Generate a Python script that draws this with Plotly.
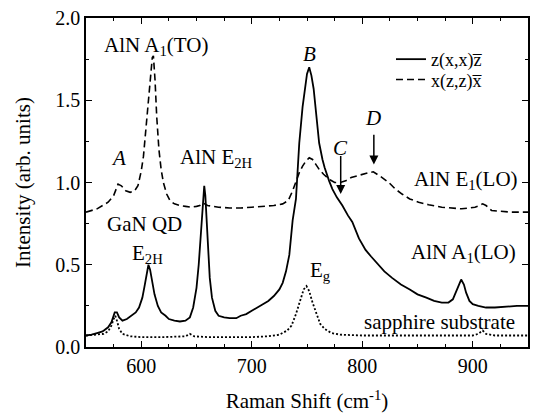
import plotly.graph_objects as go

# z(x,x)z̄ spectrum (solid)
solid_x = [550, 555, 560, 565, 570, 573, 576, 578, 580, 583, 587, 591, 595, 598, 601, 603, 605, 606.5, 608, 610,
           612, 615, 618, 622, 625, 630, 635, 640, 644, 647, 650, 652, 654, 656, 657, 658, 660, 662, 664, 667,
           670, 675, 680, 686, 690, 695, 700, 705, 710, 715, 720, 725, 728, 731, 734, 737, 740, 743, 746, 748,
           750, 752, 754, 756, 758, 761, 764, 766, 770, 773, 777, 782, 787, 791, 797, 803, 808, 813, 820, 827,
           835, 843, 850, 858, 865, 872, 878, 882, 885, 887, 889.5, 892, 894, 897, 900, 905, 912, 920, 930, 940, 950]
solid_y = [0.07, 0.075, 0.085, 0.095, 0.12, 0.15, 0.21, 0.21, 0.18, 0.16, 0.17, 0.19, 0.21, 0.24, 0.30, 0.37, 0.46, 0.50, 0.47, 0.40,
           0.32, 0.25, 0.21, 0.19, 0.17, 0.16, 0.155, 0.16, 0.18, 0.24, 0.36, 0.50, 0.70, 0.92, 0.98, 0.92, 0.66, 0.42, 0.30, 0.22,
           0.19, 0.18, 0.175, 0.175, 0.19, 0.20, 0.22, 0.24, 0.26, 0.28, 0.31, 0.35, 0.39, 0.46, 0.56, 0.77, 0.90, 1.24, 1.46, 1.57,
           1.66, 1.70, 1.65, 1.57, 1.44, 1.24, 1.14, 1.09, 1.01, 0.96, 0.91, 0.86, 0.80, 0.76, 0.66, 0.59, 0.55, 0.51, 0.46, 0.42,
           0.38, 0.35, 0.32, 0.30, 0.28, 0.27, 0.27, 0.29, 0.34, 0.38, 0.41, 0.38, 0.33, 0.28, 0.26, 0.25, 0.24, 0.24, 0.245, 0.25, 0.25]

# x(z,z)x̄ spectrum (dashed)
dash_x = [550, 555, 560, 565, 570, 575, 579, 582, 586, 590, 594, 597, 600, 602, 604, 606, 608, 610, 611, 612.5,
          614, 616, 618, 620, 623, 626, 630, 635, 640, 645, 650, 653, 656, 660, 665, 670, 680, 690, 700, 710,
          720, 728, 733, 737, 740, 743, 746, 749, 752, 755, 758, 761, 765, 770, 775, 780, 785, 790, 795, 800,
          806, 810, 814, 818, 824, 830, 836, 843, 851, 860, 872, 882, 890, 897, 902, 906, 909, 912, 917, 925, 935, 950]
dash_y = [0.82, 0.83, 0.84, 0.86, 0.88, 0.92, 0.99, 0.98, 0.95, 0.94, 0.95, 0.98, 1.07, 1.16, 1.32, 1.48, 1.65, 1.76, 1.77, 1.62,
          1.40, 1.20, 1.08, 1.00, 0.93, 0.89, 0.87, 0.86, 0.855, 0.85, 0.855, 0.86, 0.875, 0.86, 0.855, 0.85, 0.845, 0.845, 0.85, 0.855,
          0.86, 0.87, 0.89, 0.95, 1.01, 1.06, 1.10, 1.13, 1.15, 1.14, 1.11, 1.08, 1.05, 1.02, 1.00, 1.00, 1.01, 1.03, 1.04, 1.05,
          1.06, 1.065, 1.05, 1.03, 1.00, 0.96, 0.93, 0.90, 0.88, 0.865, 0.85, 0.845, 0.84, 0.845, 0.85, 0.86, 0.87, 0.86, 0.83, 0.825, 0.82, 0.82]

# sapphire substrate (dotted)
dot_x = [550, 560, 566, 570, 573, 575, 576.5, 578, 580, 583, 590, 600, 620, 640, 644, 648, 660, 680, 700, 715,
         725, 732, 736, 740, 744, 747, 749.5, 752, 755, 758, 762, 766, 772, 780, 800, 850, 900, 905, 909, 912, 920, 950]
dot_y = [0.07, 0.075, 0.08, 0.095, 0.13, 0.17, 0.19, 0.16, 0.11, 0.08, 0.065, 0.06, 0.06, 0.065, 0.08, 0.065, 0.06, 0.06, 0.06, 0.065,
         0.075, 0.10, 0.13, 0.20, 0.29, 0.35, 0.37, 0.34, 0.27, 0.21, 0.14, 0.11, 0.085, 0.075, 0.07, 0.07, 0.07, 0.08, 0.10, 0.08, 0.07, 0.07]

x_ticks = [600, 700, 800, 900]
y_ticks = [0.0, 0.5, 1.0, 1.5, 2.0]

FONT = "Liberation Serif"

fig = go.Figure()
fig.add_trace(go.Scatter(x=solid_x, y=solid_y, mode="lines", name="z(x,x)z\u0305", legend="legend",
                         line=dict(color="black", width=1.8)))
fig.add_trace(go.Scatter(x=dash_x, y=dash_y, mode="lines", name="x(z,z)x\u0305", legend="legend2",
                         line=dict(color="black", width=1.6, dash="7px,4px")))
fig.add_trace(go.Scatter(x=dot_x, y=dot_y, mode="lines", name="sapphire", showlegend=False,
                         line=dict(color="black", width=1.8, dash="2px,2px")))

ann_font = dict(family=FONT, size=21, color="black")
labels = [
    (613, 1.83, "AlN A<sub>1</sub>(TO)"),
    (579, 1.15, "<i>A</i>"),
    (668, 1.15, "AlN E<sub>2H</sub>"),
    (752.5, 1.78, "<i>B</i>"),
    (780, 1.21, "<i>C</i>"),
    (810, 1.39, "<i>D</i>"),
    (894, 1.015, "AlN E<sub>1</sub>(LO)"),
    (603, 0.75, "GaN QD"),
    (606, 0.565, "E<sub>2H</sub>"),
    (891.5, 0.57, "AlN A<sub>1</sub>(LO)"),
    (762.5, 0.46, "E<sub>g</sub>"),
    (870, 0.15, "sapphire substrate"),
]
for x, y, t in labels:
    fig.add_annotation(x=x, y=y, text=t, showarrow=False, font=ann_font, xref="x", yref="y")

for xa, y_tip, y_tail in [(780.5, 0.93, 1.17), (810.5, 1.11, 1.30)]:
    fig.add_annotation(x=xa, y=y_tip, ax=xa, ay=y_tail, axref="x", ayref="y", xref="x", yref="y",
                       text="", showarrow=True, arrowhead=2, arrowsize=1.2, arrowwidth=1.5, arrowcolor="black")

axis_common = dict(showline=True, linecolor="black", linewidth=1.5, mirror="allticks",
                   ticks="inside", ticklen=6, tickwidth=1.2, tickcolor="black",
                   showgrid=False, zeroline=False,
                   tickfont=dict(family=FONT, size=20, color="black"))

fig.update_xaxes(range=[550, 950], tickvals=x_ticks,
                 minor=dict(dtick=25, tick0=550, ticks="inside", ticklen=3, tickwidth=1, tickcolor="black"),
                 title=dict(text="Raman Shift (cm<sup>-1</sup>)", font=dict(family=FONT, size=21, color="black"), standoff=18),
                 **axis_common)
fig.update_yaxes(range=[0, 2.0], tickvals=y_ticks, tickformat=".1f",
                 minor=dict(dtick=0.25, tick0=0, ticks="inside", ticklen=3, tickwidth=1, tickcolor="black"),
                 title=dict(text="Intensity (arb. units)", font=dict(family=FONT, size=21, color="black"), standoff=19),
                 **axis_common)

leg_common = dict(xanchor="left", yanchor="middle", bgcolor="rgba(0,0,0,0)",
                  font=dict(family=FONT, size=18, color="black"), itemwidth=30)
fig.update_layout(
    width=537, height=419,
    font=dict(family=FONT, size=20, color="black"),
    margin=dict(l=86, r=7, t=14, b=72),
    paper_bgcolor="white", plot_bgcolor="white",
    showlegend=True,
    legend=dict(x=0.69, y=0.874, **leg_common),
    legend2=dict(x=0.69, y=0.812, **leg_common),
)

fig.write_html("out.html")
